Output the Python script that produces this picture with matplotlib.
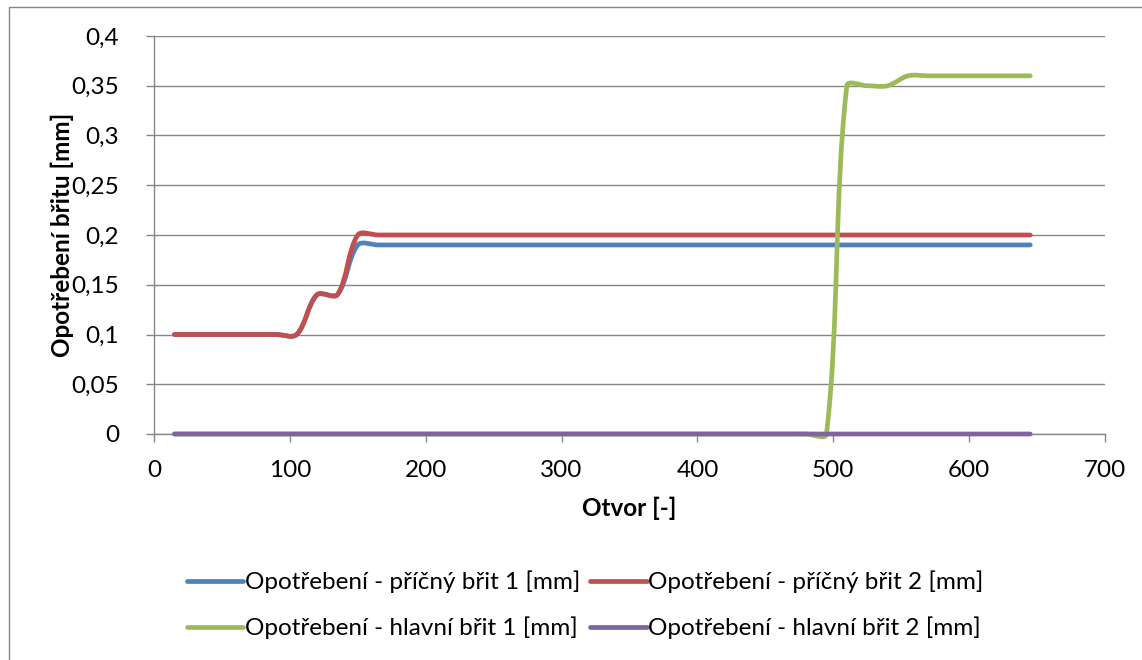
import numpy as np
import matplotlib
matplotlib.use("Agg")
import matplotlib.pyplot as plt
from matplotlib.path import Path
from matplotlib.patches import PathPatch, Rectangle
from matplotlib.lines import Line2D
from matplotlib.ticker import FuncFormatter, MultipleLocator

plt.rcParams['font.family'] = ['Lato', 'DejaVu Sans']

# Hole number (every 15th hole measured)
otvor = list(range(15, 646, 15))

pricny_brit_1 = [0.10, 0.10, 0.10, 0.10, 0.10, 0.10, 0.10, 0.14, 0.14, 0.19] + [0.19] * 33
pricny_brit_2 = [0.10, 0.10, 0.10, 0.10, 0.10, 0.10, 0.10, 0.14, 0.14, 0.20] + [0.20] * 33
hlavni_brit_1 = [0.0] * 33 + [0.35, 0.35, 0.35, 0.36, 0.36, 0.36, 0.36, 0.36, 0.36, 0.36]
hlavni_brit_2 = [0.0] * 43

labels = [
    "Opotřebení - příčný břit 1 [mm]",
    "Opotřebení - příčný břit 2 [mm]",
    "Opotřebení - hlavní břit 1 [mm]",
    "Opotřebení - hlavní břit 2 [mm]",
]
colors = ["#4F81BD", "#C0504D", "#9BBB59", "#8064A2"]
series = [pricny_brit_1, pricny_brit_2, hlavni_brit_1, hlavni_brit_2]

FS = 17.5


def smooth_path(x, y, sx, sy):
    """Smoothed cubic Bezier path through the points; control arms are scaled by
    the on-screen length of neighbouring segments (sx, sy: pixels per data unit)."""
    pts = np.column_stack([np.asarray(x, float), np.asarray(y, float)])
    scr = pts * np.array([sx, sy])
    n = len(pts)

    def dist(i, j):
        return float(np.hypot(*(scr[j] - scr[i])))

    verts = [pts[0]]
    codes = [Path.MOVETO]
    for i in range(n - 1):
        i0 = max(i - 1, 0)
        i3 = min(i + 2, n - 1)
        p0, p1, p2, p3 = pts[i0], pts[i], pts[i + 1], pts[i3]
        d01, d12, d23 = dist(i0, i), dist(i, i + 1), dist(i + 1, i3)
        f1 = d12 / (d01 + d12) / 3.0 if d01 + d12 > 0 else 0.0
        f2 = d12 / (d12 + d23) / 3.0 if d12 + d23 > 0 else 0.0
        c1 = p1 + (p2 - p0) * f1
        c2 = p2 - (p3 - p1) * f2
        verts += [c1, c2, p2]
        codes += [Path.CURVE4] * 3
    return Path(verts, codes)


fig = plt.figure(figsize=(11.42, 6.6), dpi=100)
W, H = 1142, 660

# chart border (top and left edges visible)
fig.patches.append(Rectangle((9 / W, -0.1), 1.2, (1 - 7 / H) + 0.1,
                             transform=fig.transFigure, fill=False,
                             edgecolor="#868686", lw=1.0))

ax_l, ax_r, ax_t, ax_b = 154, 1105, 36, 434
ax = fig.add_axes([ax_l / W, 1 - ax_b / H, (ax_r - ax_l) / W, (ax_b - ax_t) / H])
ax.set_xlim(0, 700)
ax.set_ylim(0, 0.4)
sx = (ax_r - ax_l) / 700.0
sy = (ax_b - ax_t) / 0.4

for vals, col in zip(series, colors):
    patch = PathPatch(smooth_path(otvor, vals, sx, sy), facecolor="none", edgecolor=col,
                      lw=3.4, capstyle="round", joinstyle="round", zorder=3,
                      clip_on=False)
    ax.add_patch(patch)

ax.xaxis.set_major_locator(MultipleLocator(100))
ax.yaxis.set_major_locator(MultipleLocator(0.05))
ax.yaxis.set_major_formatter(FuncFormatter(lambda v, p: ("%g" % round(v, 2)).replace(".", ",")))
ax.grid(axis="y", color="#868686", lw=1.0)
ax.set_axisbelow(True)
for s in ("top", "right"):
    ax.spines[s].set_visible(False)
for s in ("left", "bottom"):
    ax.spines[s].set_color("#868686")
    ax.spines[s].set_linewidth(1.0)
ax.tick_params(axis="both", direction="out", length=6, width=1.0, color="#868686",
               labelsize=FS, labelcolor="black")
ax.tick_params(axis="x", pad=13)
ax.tick_params(axis="y", pad=19)

ax.set_xlabel("Otvor [-]", fontsize=FS, fontweight="bold")
ax.set_ylabel("Opotřebení břitu [mm]", fontsize=FS, fontweight="bold")
ax.xaxis.set_label_coords(0.5, 1 - (508 - ax_t) / (ax_b - ax_t))
ax.yaxis.set_label_coords(-(ax_l - 62) / (ax_r - ax_l), 0.5)
ax.xaxis.label.set_va("center")
ax.yaxis.label.set_va("center")

handles = [Line2D([], [], color=c, lw=3.4, solid_capstyle="round") for c in colors]
order = [0, 2, 1, 3]
fig.legend([handles[i] for i in order], [labels[i] for i in order],
           ncol=2, loc="center", bbox_to_anchor=(585 / W, 1 - 605 / H),
           frameon=False, fontsize=FS, handlelength=2.34, handletextpad=0.05,
           columnspacing=0.41, labelspacing=0.95, borderpad=0, borderaxespad=0)

fig.savefig("out.png", dpi=100, facecolor="white")
